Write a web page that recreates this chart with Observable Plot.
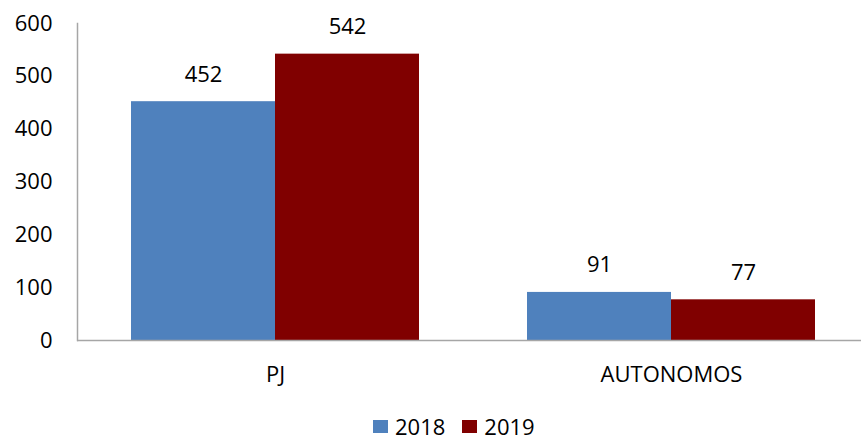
<!DOCTYPE html>
<html>
<head>
<meta charset="utf-8">
<script src="https://cdn.jsdelivr.net/npm/d3@7"></script>
<script src="https://cdn.jsdelivr.net/npm/@observablehq/plot@0.6"></script>
<style>
  html, body { margin: 0; padding: 0; background: #fff; overflow: hidden; }
  #legend { font-family: "Open Sans", sans-serif; font-size: 22px; color: #000; height: 29px; line-height: 29px; padding-left: 373px; display: flex; align-items: center; }
  .sw { display: inline-block; width: 15px; height: 13px; margin-right: 7px; }
  .item { display: inline-flex; align-items: center; margin-right: 17px; }
</style>
</head>
<body>
<div id="chart"></div>
<div id="legend"></div>
<script>
const categories = ["PJ", "AUTONOMOS"];
const years = ["2018", "2019"];
const values2018 = [452, 91];
const values2019 = [542, 77];
const yTicks = [0, 100, 200, 300, 400, 500, 600];
const colors = ["#4F81BD", "#800000"];

const data = [];
categories.forEach((c, i) => {
  data.push({cat: c, year: years[0], value: values2018[i]});
  data.push({cat: c, year: years[1], value: values2019[i]});
});

const font = "'Open Sans', sans-serif";

const plot = Plot.plot({
  width: 861,
  height: 412,
  marginTop: 23,
  marginBottom: 72,
  marginLeft: 77,
  marginRight: -8,
  style: {fontFamily: font, fontSize: "22px", color: "#000", background: "#fff"},
  fx: {domain: categories, padding: 0, label: null, round: false},
  x: {domain: years, paddingInner: 0, paddingOuter: 0.375, axis: null, round: false},
  y: {domain: [0, 600], ticks: yTicks, label: null},
  color: {domain: years, range: colors},
  marks: [
    Plot.barY(data, {fx: "cat", x: "year", y: "value", fill: "year", inset: 0}),
    Plot.text(data, {fx: "cat", x: "year", y: "value", text: d => String(d.value), dy: -27, fontSize: 22, fill: "#000"}),
    Plot.ruleY([0], {stroke: "#a6a6a6", strokeWidth: 1.5}),
    Plot.frame({anchor: "left", facetAnchor: "left", stroke: "#a6a6a6", strokeWidth: 1.5}),
    Plot.axisY({ticks: yTicks, tickSize: 0, tickPadding: 25, fontSize: 22, label: null, anchor: "left"}),
    Plot.axisFx({tickSize: 0, tickPadding: 26, fontSize: 22, label: null, anchor: "bottom"})
  ]
});
document.getElementById("chart").appendChild(plot);

const legend = d3.select("#legend");
years.forEach((y, i) => {
  const it = legend.append("span").attr("class", "item");
  it.append("span").attr("class", "sw").style("background", colors[i]);
  it.append("span").text(y);
});
</script>
</body>
</html>
